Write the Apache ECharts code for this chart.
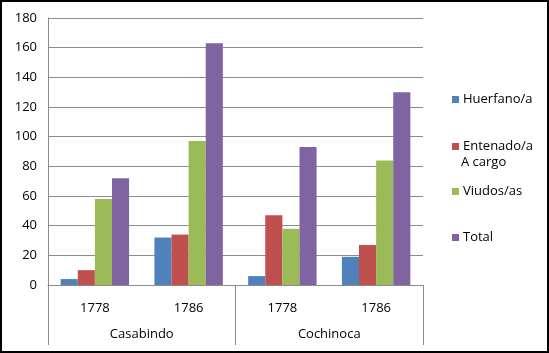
<!DOCTYPE html>
<html>
<head>
<meta charset="utf-8">
<script src="https://cdn.jsdelivr.net/npm/echarts@6/dist/echarts.min.js"></script>
<style>
  html, body { margin: 0; padding: 0; background: #fff; }
  #chart { width: 549px; height: 353px; }
</style>
</head>
<body>
<div id="chart"></div>
<script>
// data
const years = ['1778', '1786', '1778', '1786']
const places = ['Casabindo', 'Cochinoca']
const seriesNames = ['Huerfano/a', 'Entenado/a\nA cargo', 'Viudos/as', 'Total']
const huerfano = [4, 32, 6, 19]
const entenado = [10, 34, 47, 27]
const viudos = [58, 97, 38, 84]
const total = [72, 163, 93, 130]
const yTicks = [0, 20, 40, 60, 80, 100, 120, 140, 160, 180]

const colors = ['#4f81bd', '#c0504d', '#9bbb59', '#8064a2']
const values = [huerfano, entenado, viudos, total]
const font = 'Open Sans'
const legendTops = [88, 135, 180, 226]

const myChart = echarts.init(document.getElementById('chart'))

myChart.setOption({
  animation: false,
  textStyle: { fontFamily: font },
  grid: { left: 48, top: 18, right: 126, bottom: 68, containLabel: false },
  legend: seriesNames.map((name, i) => ({
    data: [name],
    orient: 'vertical',
    left: 447,
    top: legendTops[i],
    icon: 'rect',
    itemWidth: 7,
    itemHeight: 7,
    itemGap: 0,
    formatter: n => n.split('\n')[0],
    textStyle: { fontFamily: font, fontSize: 13, color: '#000', padding: [0, 0, 0, -1] }
  })),
  graphic: [
    {
      type: 'text',
      left: 461,
      top: 156,
      style: { text: 'A cargo', fontFamily: font, fontSize: 13, fill: '#000' }
    },
    {
      type: 'rect',
      shape: { x: 1, y: 1, width: 547, height: 351 },
      style: { fill: null, stroke: '#000', lineWidth: 2 }
    }
  ],
  xAxis: [
    {
      type: 'category',
      data: years,
      position: 'bottom',
      axisLine: { lineStyle: { color: '#8c8c8c' } },
      axisTick: { show: false },
      axisLabel: { color: '#000', fontSize: 13, margin: 17 }
    },
    {
      type: 'category',
      data: places,
      position: 'bottom',
      axisLine: { show: false },
      axisTick: { show: true, length: 60, lineStyle: { color: '#8c8c8c' } },
      axisLabel: { color: '#000', fontSize: 13, margin: 43 }
    }
  ],
  yAxis: {
    type: 'value',
    min: yTicks[0],
    max: yTicks[yTicks.length - 1],
    interval: 20,
    axisLine: { show: true, lineStyle: { color: '#8c8c8c' } },
    axisTick: { show: false },
    axisLabel: { color: '#000', fontSize: 13, margin: 11 },
    splitLine: { lineStyle: { color: '#8c8c8c' } }
  },
  series: seriesNames.map((name, i) => ({
    name: name,
    type: 'bar',
    xAxisIndex: 0,
    data: values[i],
    barGap: '0%',
    barCategoryGap: '27%',
    itemStyle: { color: colors[i] }
  }))
})
</script>
</body>
</html>
